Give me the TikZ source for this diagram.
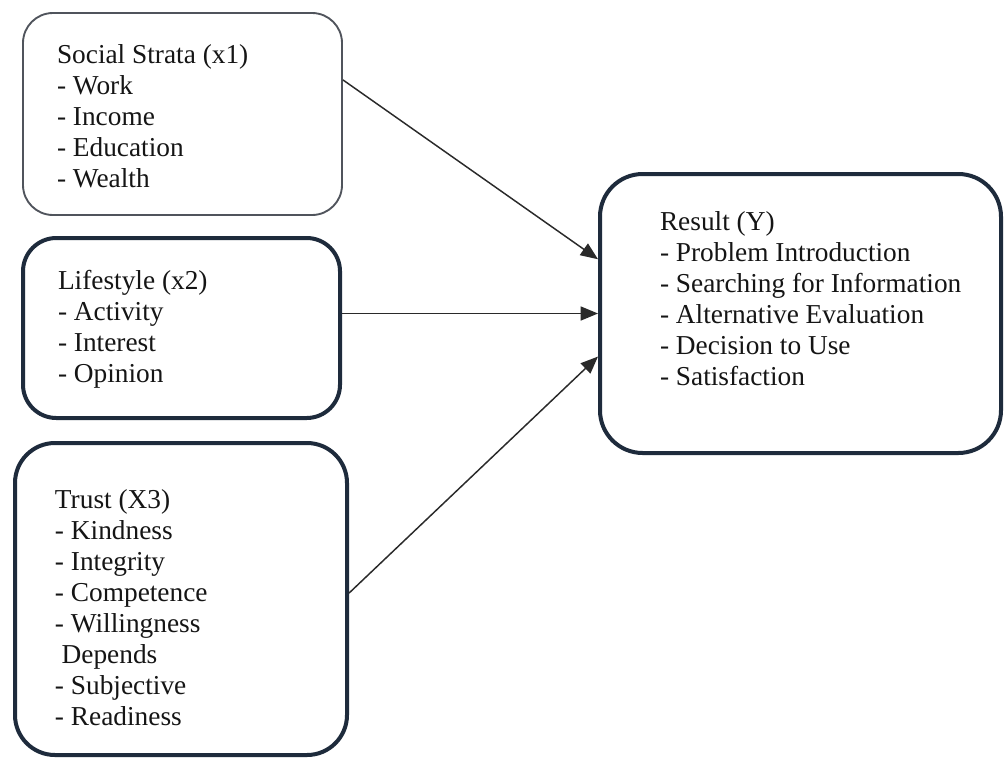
\documentclass[tikz,border=0pt]{standalone}
\usepackage{fontspec}
\setmainfont{Liberation Serif}
\usetikzlibrary{arrows.meta}
\definecolor{navy}{HTML}{1E2B3C}
\definecolor{thingray}{HTML}{50545C}
\definecolor{arrowgray}{HTML}{2A2A2A}
\definecolor{txt}{HTML}{151515}
\begin{document}
\begin{tikzpicture}[x=0.75pt,y=-0.75pt,
  thinbox/.style={draw=thingray, line width=1.4pt, fill=white, inner sep=0pt},
  thickbox/.style={draw=navy, line width=3pt, fill=white, inner sep=0pt},
  lbl/.style={anchor=north west, inner sep=0pt, outer sep=0pt, align=left, text=txt,
    font=\fontsize{20.5}{23.25}\selectfont},
  conn/.style={draw=arrowgray, line width=1.1pt, -{Triangle[length=13pt,width=10.5pt]}}]
\useasboundingbox (0,0) rectangle (1004,758);
\fill[white] (0,0) rectangle (1004,758);
% boxes
\node[thinbox, rounded corners=22.5pt, minimum width=239.25pt, minimum height=151.5pt] (b1) at (182.5,114) {};
\node[thickbox, rounded corners=25pt, minimum width=237.75pt, minimum height=135pt] (b2) at (181.5,328) {};
\node[thickbox, rounded corners=30pt, minimum width=249pt, minimum height=234pt] (b3) at (181,599) {};
\node[thickbox, rounded corners=32pt, minimum width=300.75pt, minimum height=209.25pt] (b4) at (800.5,313.5) {};
% texts
\node[lbl] (t1) at (57,41.3) {\strut Social Strata (x1)\\- Work\\- Income\\- Education\\- Wealth};
\node[lbl] (t2) at (58,267.3) {\strut Lifestyle (x2)\\- Activity\\- Interest\\- Opinion};
\node[lbl] (t3) at (55,486.3) {\strut Trust (X3)\\- Kindness\\- Integrity\\- Competence\\- Willingness\\\hspace*{5pt}Depends\\- Subjective\\- Readiness};
\node[lbl] (t4) at (660,208.3) {\strut Result (Y)\\- Problem Introduction\\- Searching for Information\\- Alternative Evaluation\\- Decision to Use\\- Satisfaction};
% connectors
\draw[conn] (b1.12.7) -- (b4.165.9);
\draw[conn] (b2.east |- b4.west) -- (b4.west);
\draw[conn] (b3.2.4) -- (b4.192.2);
\end{tikzpicture}
\end{document}
